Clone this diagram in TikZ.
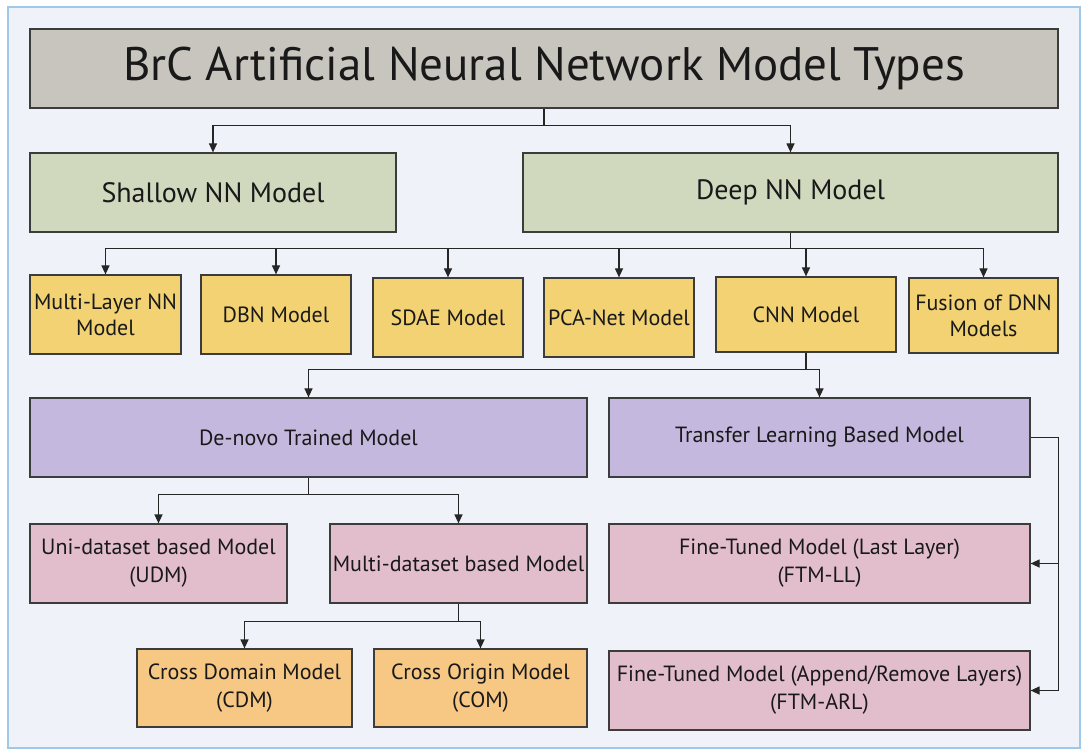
\documentclass[tikz,border=0pt]{standalone}
\usepackage{fontspec}
\setmainfont{PT Sans}
\usetikzlibrary{positioning,arrows.meta,calc}
\definecolor{framebg}{RGB}{239,242,248}
\definecolor{frameline}{RGB}{160,200,235}
\definecolor{titlefill}{RGB}{200,196,190}
\definecolor{nnfill}{RGB}{208,217,190}
\definecolor{yelfill}{RGB}{242,210,115}
\definecolor{purfill}{RGB}{196,184,222}
\definecolor{pinkfill}{RGB}{226,190,204}
\definecolor{orgfill}{RGB}{246,200,132}
\definecolor{boxline}{RGB}{60,60,60}
\tikzset{
  base/.style={draw=boxline, line width=1.2pt, inner sep=2pt, align=center, text=black!90},
  titlebox/.style={base, fill=titlefill, font=\fontsize{47}{52}\selectfont},
  nnbox/.style={base, fill=nnfill, font=\fontsize{28}{32}\selectfont},
  yelbox/.style={base, fill=yelfill, font=\fontsize{22}{26}\selectfont},
  purbox/.style={base, fill=purfill, font=\fontsize{22}{26}\selectfont},
  pinkbox/.style={base, fill=pinkfill, font=\fontsize{22}{28}\selectfont},
  orgbox/.style={base, fill=orgfill, font=\fontsize{22}{28}\selectfont},
  link/.style={draw=black!85, line width=1.2pt},
  arr/.style={link, -{Triangle[length=9pt,width=8pt]}}
}

\begin{document}
\begin{tikzpicture}[x=1pt, y=-1pt]
\useasboundingbox (0,0) rectangle (1088,751);
\draw[frameline, fill=framebg, line width=1.5pt] (8,7) rectangle (1080,748);
% title and first split
\node[titlebox, minimum width=1028pt, minimum height=79pt] (title) at (544,68.5) {BrC Artificial Neural Network Model Types};
\node[nnbox, minimum width=366pt, minimum height=79pt] (shallow) at (213,192.5) {Shallow NN Model};
\node[nnbox, minimum width=535pt, minimum height=79pt] (deep) at (790.5,192.5) {Deep NN Model};
% deep models
\node[yelbox, minimum width=151pt, minimum height=79pt] (mlnn) at (105.5,314.5) {Multi-Layer NN\\Model};
\node[yelbox, minimum width=150pt, minimum height=79pt] (dbn) at (276,314.5) {DBN Model};
\node[yelbox, minimum width=150pt, minimum height=79pt] (sdae) at (448,317.5) {SDAE Model};
\node[yelbox, minimum width=150pt, minimum height=79pt] (pca) at (619,317.5) {PCA-Net Model};
\node[yelbox, minimum width=180pt, minimum height=75pt] (cnn) at (806,314.5) {CNN Model};
\node[yelbox, minimum width=149pt, minimum height=75pt] (fusion) at (983.5,315.5) {Fusion of DNN\\Models};
% cnn split
\node[purbox, minimum width=557pt, minimum height=79pt] (denovo) at (308.5,437.5) {De-novo Trained Model};
\node[purbox, minimum width=421pt, minimum height=79pt] (transfer) at (819.5,437.5) {Transfer Learning Based Model};
\node[pinkbox, minimum width=257pt, minimum height=79pt] (udm) at (158.5,563.5) {Uni-dataset based Model\\(UDM)};
\node[pinkbox, minimum width=257pt, minimum height=79pt] (mdm) at (458.5,563.5) {Multi-dataset based Model};
\node[orgbox, minimum width=215pt, minimum height=78pt] (cdm) at (244.5,688) {Cross Domain Model\\(CDM)};
\node[orgbox, minimum width=213pt, minimum height=78pt] (com) at (480.5,688) {Cross Origin Model\\(COM)};
\node[pinkbox, minimum width=421pt, minimum height=79pt] (ftmll) at (819.5,563.5) {Fine-Tuned Model (Last Layer)\\(FTM-LL)};
\node[pinkbox, minimum width=421pt, minimum height=79pt] (ftmarl) at (819.5,690.5) {Fine-Tuned Model (Append/Remove Layers)\\(FTM-ARL)};
% connectors
\draw[link] (title.south) -- ++(0,17) coordinate (j0);
\draw[arr] (j0) -| (shallow.north);
\draw[arr] (j0) -| (deep.north);
\draw[link] (deep.south) -- ++(0,16) coordinate (j1);
\foreach \n in {mlnn,dbn,sdae,pca,cnn,fusion}
  \draw[arr] (j1) -| (\n.north);
\draw[link] (cnn.south) -- ++(0,17) coordinate (j2);
\draw[arr] (j2) -| (denovo.north);
\draw[arr] (j2) -| (transfer.north);
\draw[link] (denovo.south) -- ++(0,17) coordinate (j3);
\draw[arr] (j3) -| (udm.north);
\draw[arr] (j3) -| (mdm.north);
\draw[link] (mdm.south) -- ++(0,18) coordinate (j4);
\draw[arr] (j4) -| (cdm.north);
\draw[arr] (j4) -| (com.north);
\draw[link] (transfer.east) -- ++(28,0) coordinate (j5);
\draw[arr] (j5) |- (ftmll.east);
\draw[arr] (j5) |- (ftmarl.east);
\end{tikzpicture}
\end{document}
